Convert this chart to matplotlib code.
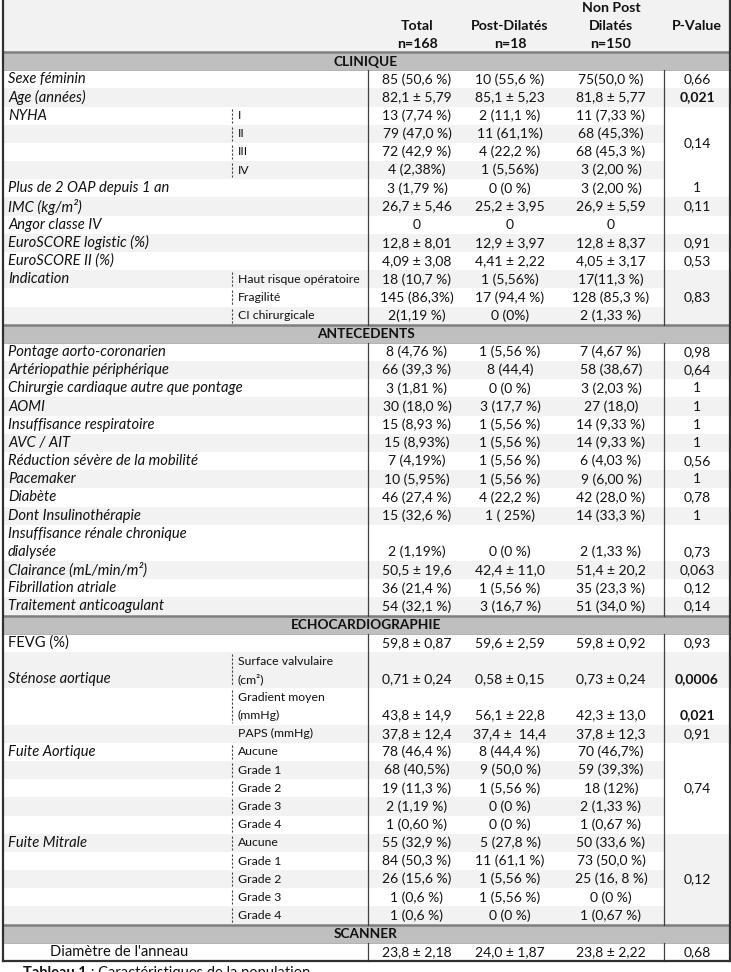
import matplotlib
matplotlib.use("Agg")
import matplotlib.pyplot as plt
from matplotlib.patches import Rectangle

plt.rcParams['font.family'] = ['Lato', 'DejaVu Sans']

# header
head_top = ["", "", "Non Post", ""]
head_mid = ["Total", "Post-Dilatés", "Dilatés", "P-Value"]
head_n = ["n=168", "n=18", "n=150", ""]

sections = ["CLINIQUE", "ANTECEDENTS", "ECHOCARDIOGRAPHIE", "SCANNER"]
section_sizes = [14, 14, 14, 1]

labels = [
    "Sexe féminin", "Age (années)", "NYHA", "", "", "", "Plus de 2 OAP depuis 1 an",
    "IMC (kg/m²)", "Angor classe IV", "EuroSCORE logistic (%)", "EuroSCORE II (%)",
    "Indication", "", "",
    "Pontage aorto-coronarien", "Artériopathie périphérique",
    "Chirurgie cardiaque autre que pontage", "AOMI", "Insuffisance respiratoire",
    "AVC / AIT", "Réduction sévère de la mobilité", "Pacemaker", "Diabète",
    "Dont Insulinothérapie", "Insuffisance rénale chronique\ndialysée",
    "Clairance (mL/min/m²)", "Fibrillation atriale", "Traitement anticoagulant",
    "FEVG (%)", "Sténose aortique", "", "", "Fuite Aortique", "", "", "", "",
    "Fuite Mitrale", "", "", "", "",
    "Diamètre de l'anneau",
]
sublabels = [
    "", "", "I", "II", "III", "IV", "", "", "", "", "",
    "Haut risque opératoire", "Fragilité", "CI chirurgicale",
    "", "", "", "", "", "", "", "", "", "", "", "", "", "",
    "", "Surface valvulaire\n(cm²)", "Gradient moyen\n(mmHg)", "PAPS (mmHg)",
    "Aucune", "Grade 1", "Grade 2", "Grade 3", "Grade 4",
    "Aucune", "Grade 1", "Grade 2", "Grade 3", "Grade 4",
    "",
]
total = [
    "85 (50,6 %)", "82,1 ± 5,79", "13 (7,74 %)", "79 (47,0 %)", "72 (42,9 %)",
    "4 (2,38%)", "3 (1,79 %)", "26,7 ± 5,46", "0", "12,8 ± 8,01", "4,09 ± 3,08",
    "18 (10,7 %)", "145 (86,3%)", "2(1,19 %)",
    "8 (4,76 %)", "66 (39,3 %)", "3 (1,81 %)", "30 (18,0 %)", "15 (8,93 %)",
    "15 (8,93%)", "7 (4,19%)", "10 (5,95%)", "46 (27,4 %)", "15 (32,6 %)",
    "2 (1,19%)", "50,5 ± 19,6", "36 (21,4 %)", "54 (32,1 %)",
    "59,8 ± 0,87", "0,71 ± 0,24", "43,8 ± 14,9", "37,8 ± 12,4",
    "78 (46,4 %)", "68 (40,5%)", "19 (11,3 %)", "2 (1,19 %)", "1 (0,60 %)",
    "55 (32,9 %)", "84 (50,3 %)", "26 (15,6 %)", "1 (0,6 %)", "1 (0,6 %)",
    "23,8 ± 2,18",
]
post = [
    "10 (55,6 %)", "85,1 ± 5,23", "2 (11,1 %)", "11 (61,1%)", "4 (22,2 %)",
    "1 (5,56%)", "0 (0 %)", "25,2 ± 3,95", "0", "12,9 ± 3,97", "4,41 ± 2,22",
    "1 (5,56%)", "17 (94,4 %)", "0 (0%)",
    "1 (5,56 %)", "8 (44,4)", "0 (0 %)", "3 (17,7 %)", "1 (5,56 %)",
    "1 (5,56 %)", "1 (5,56 %)", "1 (5,56 %)", "4 (22,2 %)", "1 ( 25%)",
    "0 (0 %)", "42,4 ± 11,0", "1 (5,56 %)", "3 (16,7 %)",
    "59,6 ± 2,59", "0,58 ± 0,15", "56,1 ± 22,8", "37,4 ±  14,4",
    "8 (44,4 %)", "9 (50,0 %)", "1 (5,56 %)", "0 (0 %)", "0 (0 %)",
    "5 (27,8 %)", "11 (61,1 %)", "1 (5,56 %)", "1 (5,56 %)", "0 (0 %)",
    "24,0 ± 1,87",
]
nonpost = [
    "75(50,0 %)", "81,8 ± 5,77", "11 (7,33 %)", "68 (45,3%)", "68 (45,3 %)",
    "3 (2,00 %)", "3 (2,00 %)", "26,9 ± 5,59", "0", "12,8 ± 8,37", "4,05 ± 3,17",
    "17(11,3 %)", "128 (85,3 %)", "2 (1,33 %)",
    "7 (4,67 %)", "58 (38,67)", "3 (2,03 %)", "27 (18,0)", "14 (9,33 %)",
    "14 (9,33 %)", "6 (4,03 %)", "9 (6,00 %)", "42 (28,0 %)", "14 (33,3 %)",
    "2 (1,33 %)", "51,4 ± 20,2", "35 (23,3 %)", "51 (34,0 %)",
    "59,8 ± 0,92", "0,73 ± 0,24", "42,3 ± 13,0", "37,8 ± 12,3",
    "70 (46,7%)", "59 (39,3%)", "18 (12%)", "2 (1,33 %)", "1 (0,67 %)",
    "50 (33,6 %)", "73 (50,0 %)", "25 (16, 8 %)", "0 (0 %)", "1 (0,67 %)",
    "23,8 ± 2,22",
]
# None = covered by the merged cell above
pvalues = [
    "0,66", "0,021", "0,14", None, None, None, "1", "0,11", "", "0,91", "0,53",
    "0,83", None, None,
    "0,98", "0,64", "1", "1", "1", "1", "0,56", "1", "0,78", "1", "0,73",
    "0,063", "0,12", "0,14",
    "0,93", "0,0006", "0,021", "0,91",
    "0,74", None, None, None, None,
    "0,12", None, None, None, None,
    "0,68",
]
p_span = {2: 4, 11: 3, 32: 5, 37: 5}
p_bold = {1, 29, 30}
no_dash = {"PAPS (mmHg)"}
plain_labels = {"FEVG (%)", "Diamètre de l'anneau"}

# layout (pixels)
W, H = 731, 972
HEAD = 52
LH = 18.18
XL, XSUB, XT, XP, XR = 2.5, 232, 368, 664, 729.5
col_x = [417, 510, 611, 697]
FS_LAB = 10.6
FS_VAL = 10.0
FS_SUB = 8.8
FS_HEAD = 10.2
FS_BAND = 9.8
GRAY = "#f2f2f2"
BAND = "#bfbfbf"
LINE = "#7f7f7f"
INK = "#111111"

fig = plt.figure(figsize=(W / 100, H / 100), dpi=100)
ax = fig.add_axes([0, 0, 1, 1])
ax.set_xlim(0, W)
ax.set_ylim(H, 0)
ax.axis('off')

# header block
ax.add_patch(Rectangle((XL, 0), XR - XL, HEAD, color=GRAY, lw=0))
for j in range(4):
    for yy, row in ((8, head_top), (26, head_mid), (43.5, head_n)):
        ax.text(col_x[j], yy, row[j], ha='center', va='center', fontsize=FS_HEAD,
                fontweight='bold', color=INK)

nlines = [max(len(a.split("\n")), len(b.split("\n"))) for a, b in zip(labels, sublabels)]

line = 0
r = 0
for s, name in enumerate(sections):
    y0 = HEAD + line * LH
    ax.add_patch(Rectangle((XL, y0), XR - XL, LH, color=BAND, lw=0))
    ax.plot([XL, XR], [y0 + 0.5, y0 + 0.5], color=LINE, lw=1.8)
    ax.plot([XL, XR], [y0 + LH, y0 + LH], color="#a6a6a6", lw=0.6)
    ax.text((XL + XR) / 2, y0 + LH / 2 + 0.5, name, ha='center', va='center',
            fontsize=FS_BAND, fontweight='bold', color=INK)
    line += 1
    sec_top = HEAD + line * LH
    for k in range(section_sizes[s]):
        nl = nlines[r]
        top = HEAD + line * LH
        bot = top + nl * LH
        if k % 2 == 1:
            ax.add_patch(Rectangle((XL, top), XR - XL, nl * LH, color=GRAY, lw=0))
        yc = bot - LH / 2
        # label
        lab_lines = labels[r].split("\n")
        lab_x = 50 if name == "SCANNER" else 8
        for i, t in enumerate(lab_lines):
            ly = bot - (len(lab_lines) - i - 0.5) * LH
            ax.text(lab_x, ly, t, ha='left', va='center', fontsize=FS_LAB, color=INK,
                    style='normal' if labels[r] in plain_labels else 'italic')
        sub_lines = sublabels[r].split("\n")
        for i, t in enumerate(sub_lines):
            ly = bot - (len(sub_lines) - i - 0.5) * LH
            ax.text(XSUB + 6, ly, t, ha='left', va='center', fontsize=FS_SUB, color=INK)
        if sublabels[r] and sublabels[r] not in no_dash:
            ax.plot([XSUB, XSUB], [top + 2, bot - 2], color="#404040", lw=0.8,
                    ls=(0, (2, 1.6)))
        for j, col in enumerate([total, post, nonpost]):
            ax.text(col_x[j], yc, col[r], ha='center', va='center', fontsize=FS_VAL,
                    color=INK)
        p = pvalues[r]
        if p is not None:
            span = p_span.get(r, 1)
            ptop = top
            pbot = HEAD + (line + sum(nlines[r:r + span])) * LH
            if span > 1:
                ax.add_patch(Rectangle((XP, ptop), XR - XP, pbot - ptop,
                                       color=GRAY if k % 2 else "white", lw=0, zorder=2))
                py = (ptop + pbot) / 2
            else:
                py = yc
            ax.text(col_x[3], py, p, ha='center', va='center', fontsize=FS_VAL, zorder=3,
                    color=INK, fontweight='bold' if r in p_bold else 'normal')
        line += nl
        r += 1
    sec_bot = HEAD + line * LH
    for xv in (XT, XP):
        ax.plot([xv, xv], [sec_top, sec_bot], color="#404040", lw=0.9, zorder=4)

table_bot = HEAD + line * LH
ax.plot([XL, XL], [0, table_bot], color="#303030", lw=1.6, zorder=5)
ax.plot([XR, XR], [0, table_bot], color="#303030", lw=1.6, zorder=5)
ax.plot([XL, XR], [table_bot, table_bot], color="#303030", lw=1.6, zorder=5)

cap = ax.text(23, table_bot + 5, "Tableau 1", ha='left', va='top', fontsize=10.5,
              fontweight='bold', color=INK)
ax.annotate(" : Caractéristiques de la population", xy=(1, 1), xycoords=cap,
            ha='left', va='top', fontsize=10.5, color=INK)

fig.savefig("out.png", dpi=100)
